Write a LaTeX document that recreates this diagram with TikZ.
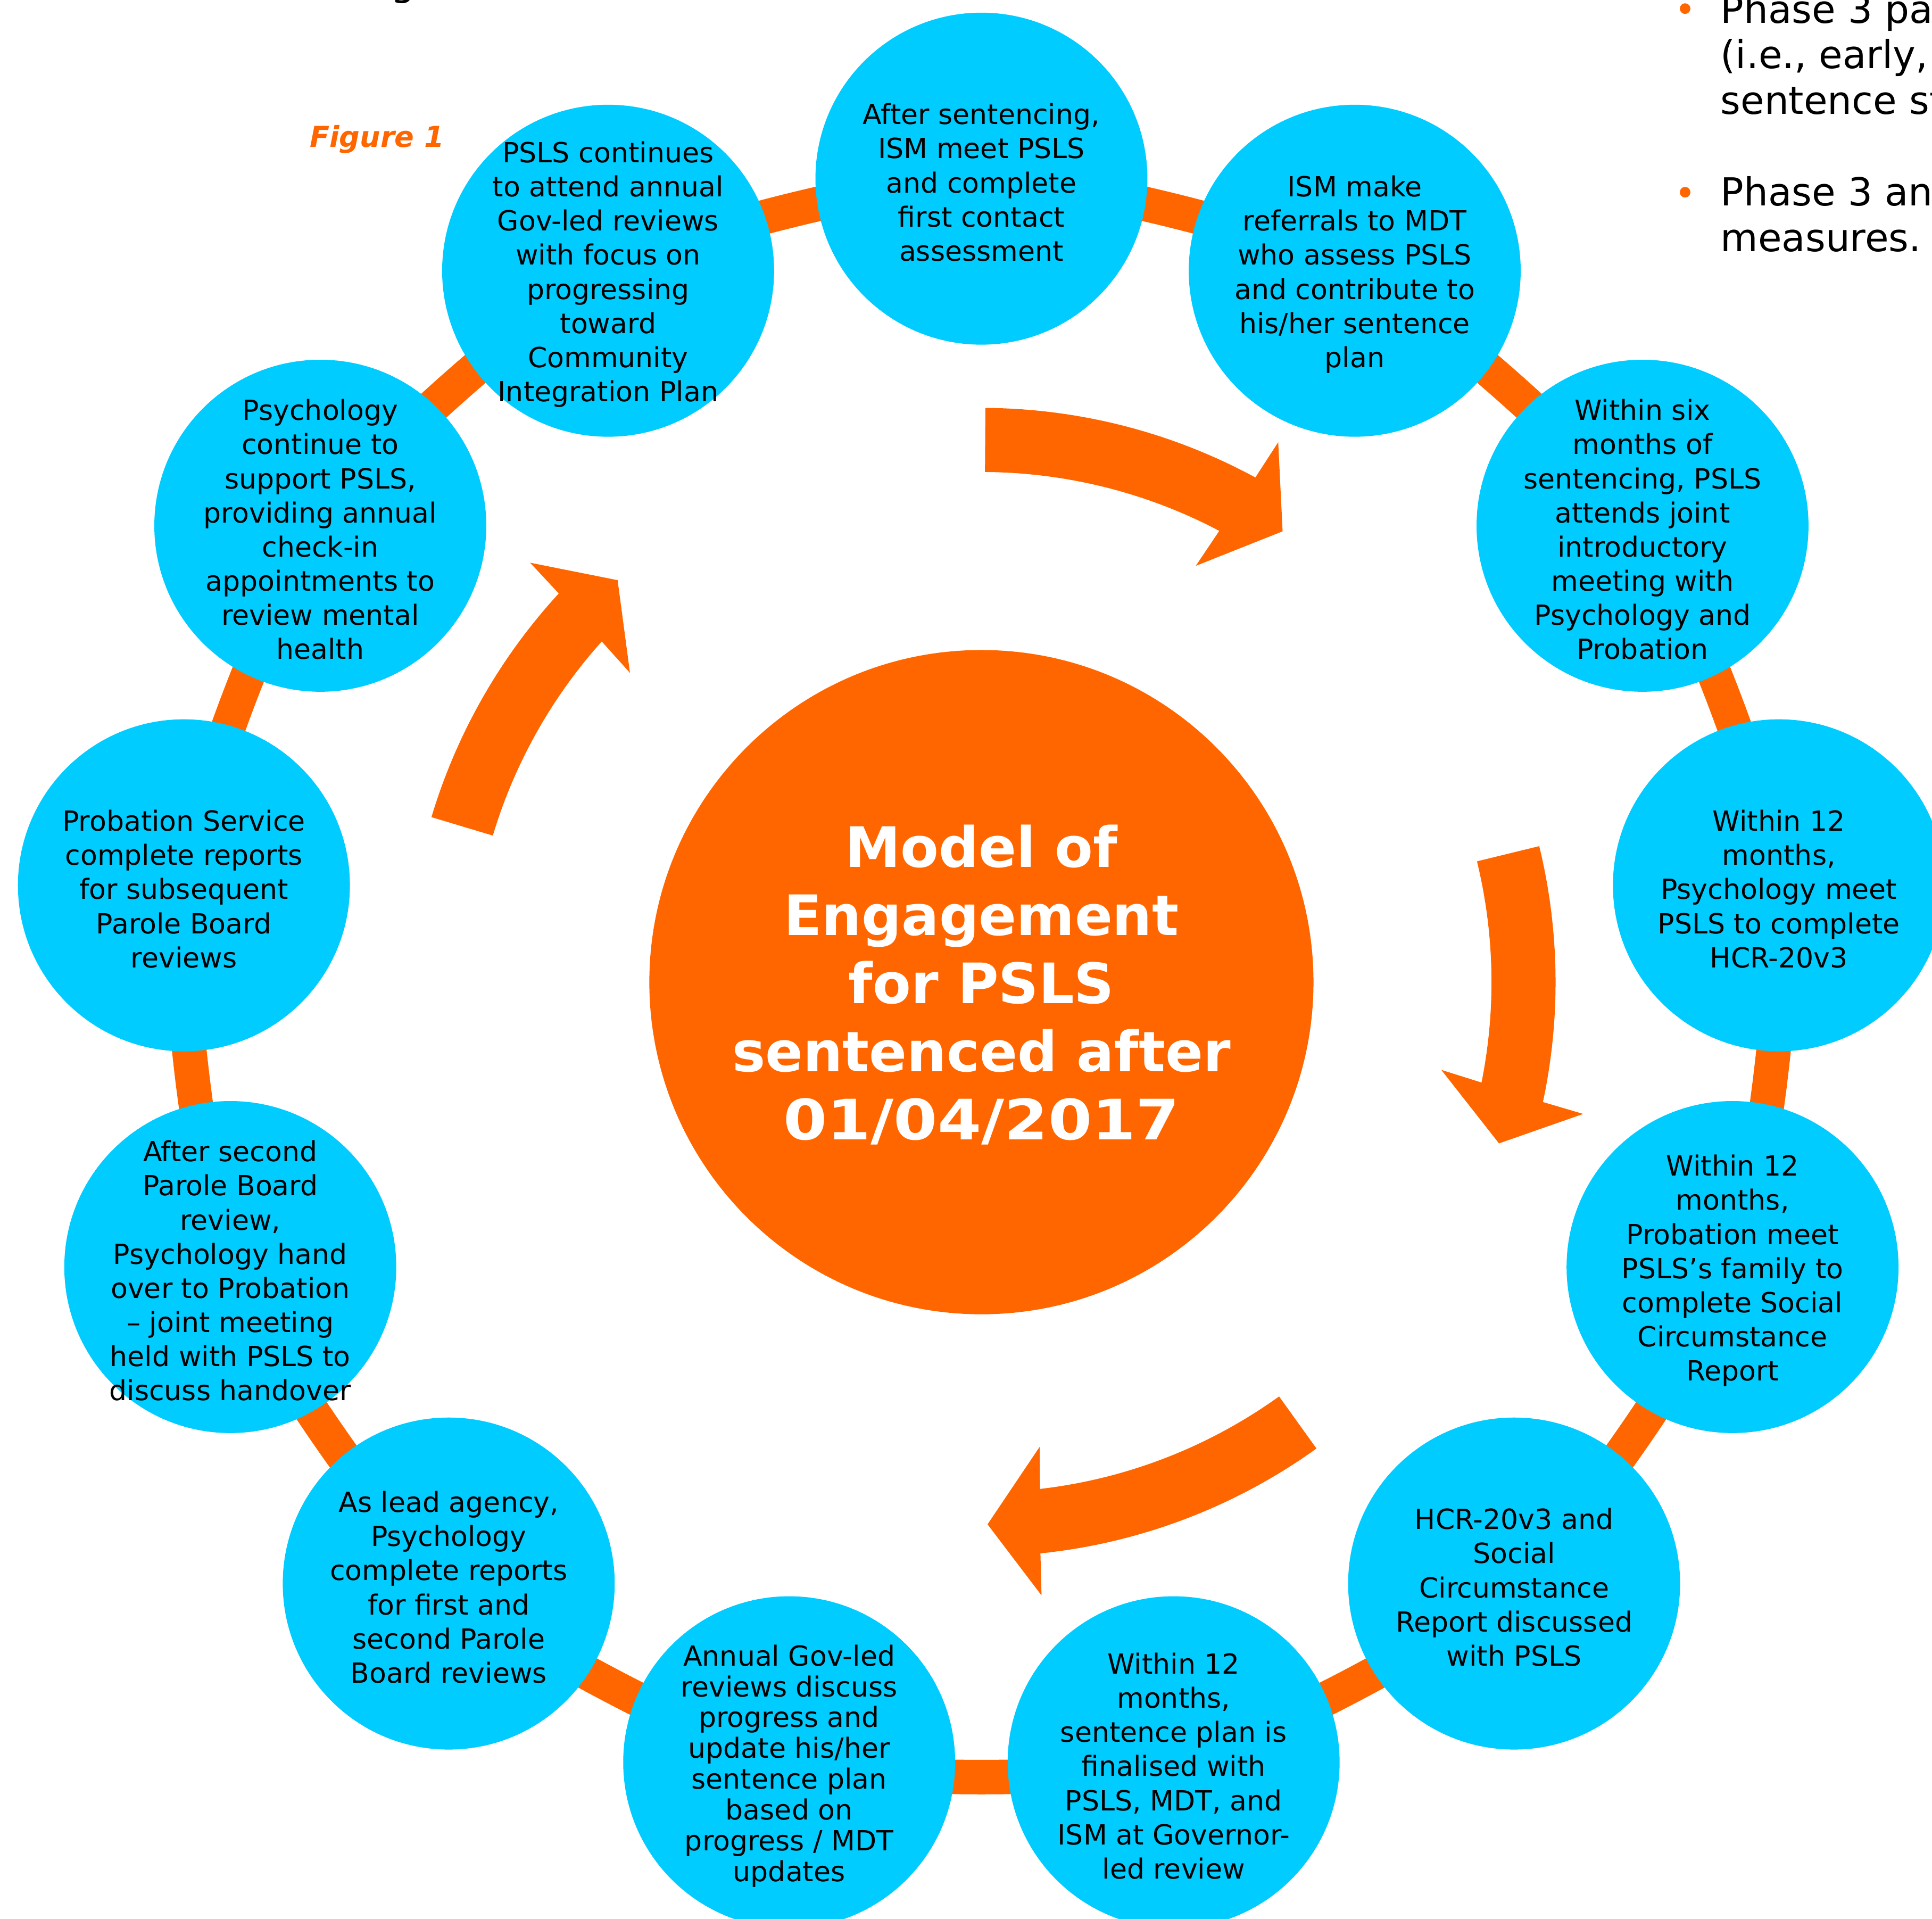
\documentclass[tikz,border=0pt]{standalone}
\usepackage{fontspec}
\setmainfont{DejaVu Sans}[ItalicFont={DejaVu Sans Oblique},BoldItalicFont={DejaVu Sans Bold Oblique}]
\usetikzlibrary{backgrounds}
\definecolor{accent}{HTML}{FF6600}
\definecolor{sky}{HTML}{00CCFF}

% curved block arrow around the hub: #1 = start angle, #2 = angle where the head begins
\newcommand\bentarrow[2]{%
  \fill[accent] (#1:466) arc[start angle=#1, end angle={#2-0.7}, radius=466]
    -- ({#2-1.0}:500) -- ({#2-5.95}:440) -- ({#2+0.55}:380) -- (#2:414)
    arc[start angle=#2, end angle=#1, radius=414] -- cycle;}

\begin{document}
\begin{tikzpicture}[x=0.5pt, y=0.5pt,
  stage/.style={circle, fill=sky, minimum size=134.7pt, inner sep=0pt},
  stagetext/.style={align=center, inner sep=0pt, yshift=-1.5pt, font=\fontsize{11.25pt}{13.85pt}\selectfont},
  tighttext/.style={stagetext, font=\fontsize{11.25pt}{12.5pt}\selectfont},
  hub/.style={circle, fill=accent, minimum size=269.5pt, inner sep=0pt},
  hubtext/.style={align=center, inner sep=0pt, yshift=-1pt, text=white, font=\fontsize{22.6pt}{27.65pt}\selectfont\bfseries},
  ring/.style={draw=accent, line width=14pt},
  sidetext/.style={anchor=base west, inner sep=0pt, font=\fontsize{15.65pt}{18.5pt}\selectfont},
  bullet/.style={circle, fill=accent, minimum size=4.3pt, inner sep=0pt}
]
\useasboundingbox (0,0) rectangle (1568,1557);

% text fragments along the page edges
\node[anchor=base, inner sep=0pt, font=\fontsize{15.65pt}{18.5pt}\selectfont] (topfrag) at (327,1560.7) {g};
\node[anchor=base west, inner sep=0pt, text=accent, font=\fontsize{11.7pt}{14pt}\selectfont\bfseries\itshape] (figlabel) at (251,1437.5) {Figure 1};
\node[bullet] (b1) at (1367.6,1550) {};
\node[bullet] (b2) at (1367.6,1401) {};
\node[sidetext] (s1) at (1396,1538.2) {Phase 3 pa};
\node[sidetext] (s2) at (1396,1501.5) {(i.e., early,};
\node[sidetext] (s3) at (1396,1464.5) {sentence st};
\node[sidetext] (s4) at (1396,1390) {Phase 3 an};
\node[sidetext] (s5) at (1396,1353) {measures.};

\begin{scope}[shift={(796.5,760)}]
  % central hub
  \node[hub] (hub) at (0,0) {};
  \node[hubtext] (title) at (0,0) {Model of\\Engagement\\for PSLS\\sentenced after\\\scalebox{1.13}[1]{01/04/2017}};

  % curved arrows between hub and ring
  \bentarrow{89.6}{62.2}
  \bentarrow{13.7}{-11.35}
  \bentarrow{-54.3}{-83.4}
  \bentarrow{163.3}{138.1}

  % the thirteen stages, clockwise from the top
  \node[stage] (n0) at (90:652) {};
  \node[stage] (n1) at (62.308:652) {};
  \node[stage] (n2) at (34.615:652) {};
  \node[stage] (n3) at (6.923:652) {};
  \node[stage] (n4) at (-20.769:652) {};
  \node[stage] (n5) at (-48.462:652) {};
  \node[stage] (n6) at (-76.154:652) {};
  \node[stage] (n7) at (-103.846:652) {};
  \node[stage] (n8) at (-131.538:652) {};
  \node[stage] (n9) at (-159.231:652) {};
  \node[stage] (n10) at (-186.923:652) {};
  \node[stage] (n11) at (-214.615:652) {};
  \node[stage] (n12) at (-242.308:652) {};

  \node[stagetext] (t0) at (n0) {After sentencing,\\ISM meet PSLS\\and complete\\first contact\\assessment};
  \node[stagetext] (t1) at (n1) {ISM make\\referrals to MDT\\who assess PSLS\\and contribute to\\his/her sentence\\plan};
  \node[stagetext] (t2) at (n2) {Within six\\months of\\sentencing, PSLS\\attends joint\\introductory\\meeting with\\Psychology and\\Probation};
  \node[stagetext] (t3) at (n3) {Within 12\\months,\\Psychology meet\\PSLS to complete\\HCR-20v3};
  \node[stagetext] (t4) at (n4) {Within 12\\months,\\Probation meet\\PSLS’s family to\\complete Social\\Circumstance\\Report};
  \node[stagetext] (t5) at (n5) {HCR-20v3 and\\Social\\Circumstance\\Report discussed\\with PSLS};
  \node[stagetext] (t6) at (n6) {Within 12\\months,\\sentence plan is\\finalised with\\PSLS, MDT, and\\ISM at Governor-\\led review};
  \node[tighttext] (t7) at (n7) {Annual Gov-led\\reviews discuss\\progress and\\update his/her\\sentence plan\\based on\\progress / MDT\\updates};
  \node[stagetext] (t8) at (n8) {As lead agency,\\Psychology\\complete reports\\for first and\\second Parole\\Board reviews};
  \node[stagetext] (t9) at (n9) {After second\\Parole Board\\review,\\Psychology hand\\over to Probation\\– joint meeting\\held with PSLS to\\discuss handover};
  \node[stagetext] (t10) at (n10) {Probation Service\\complete reports\\for subsequent\\Parole Board\\reviews};
  \node[stagetext] (t11) at (n11) {Psychology\\continue to\\support PSLS,\\providing annual\\check-in\\appointments to\\review mental\\health};
  \node[stagetext] (t12) at (n12) {PSLS continues\\to attend annual\\Gov-led reviews\\with focus on\\progressing\\toward\\Community\\Integration Plan};
\end{scope}

% ring linking consecutive stages, behind the discs
\begin{pgfonlayer}{background}
  \foreach \a/\b in {n0/n1,n1/n2,n2/n3,n3/n4,n4/n5,n5/n6,n6/n7,n7/n8,n8/n9,n9/n10,n10/n11,n11/n12,n12/n0}
    \draw[ring] (\a.center) to[bend left=13.85, looseness=0.55] (\b.center);
\end{pgfonlayer}
\end{tikzpicture}
\end{document}
